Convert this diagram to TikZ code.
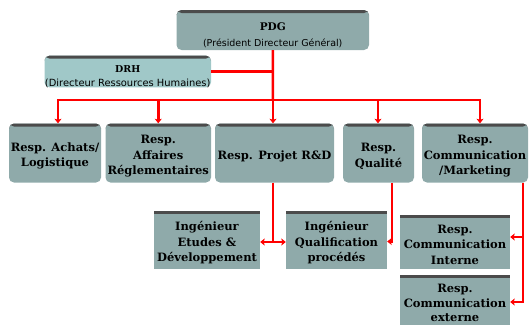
\documentclass[tikz,border=0pt]{standalone}
\usepackage{fontspec}
\setmainfont{DejaVu Serif}
\newfontfamily\subf{DejaVu Sans}
\usetikzlibrary{arrows.meta}
\definecolor{boxfill}{RGB}{143,170,170}
\definecolor{drhfill}{RGB}{160,200,200}
\definecolor{band}{RGB}{75,75,75}
\definecolor{linkred}{RGB}{255,0,0}
\newcommand{\tstrut}[1]{\rule{0pt}{#1}}
\tikzset{
 box/.style={fill=boxfill, draw=none, align=center, inner sep=0pt,
   font=\fontsize{11.5}{15.5}\selectfont\bfseries,
   path picture={\fill[band] (path picture bounding box.north west) rectangle ([yshift=-3pt]path picture bounding box.north east);}},
 rbox/.style={box, rounded corners=5pt},
 link/.style={draw=linkred, line width=2.5pt},
 arr/.style={link, -{Stealth[length=4.5pt,width=7pt,inset=1pt]}},
}
\begin{document}
\begin{tikzpicture}[x=1pt,y=-1pt]
\useasboundingbox (0,0) rectangle (530,324);
\clip (0,0) rectangle (530,324);
\node[rbox, minimum width=192.5pt, minimum height=40pt, font=\fontsize{10.5}{16}\selectfont\bfseries] (pdg) at (272.75,30)
  {\tstrut{18pt}PDG\\{\subf\mdseries\fontsize{9.5}{10}\selectfont (Président Directeur Général)}};
\node[rbox, fill=drhfill, minimum width=166.5pt, minimum height=31pt, font=\fontsize{9.5}{13.5}\selectfont\bfseries] (drh) at (127.75,71.5)
  {\tstrut{17pt}DRH\\{\subf\mdseries\fontsize{9.9}{10}\selectfont (Directeur Ressources Humaines)}};

\node[rbox, minimum width=92pt, minimum height=59pt] (A) at (55,153) {\tstrut{15pt}Resp. Achats/\\Logistique};
\node[rbox, minimum width=105.5pt, minimum height=59pt] (B) at (158.25,153) {\tstrut{15pt}Resp.\\Affaires\\Réglementaires};
\node[rbox, minimum width=119pt, minimum height=59pt] (C) at (274.5,153) {\tstrut{15pt}Resp. Projet R\&D};
\node[rbox, minimum width=71pt, minimum height=59pt] (D) at (378.5,153) {\tstrut{15pt}Resp.\\Qualité};
\node[rbox, minimum width=106pt, minimum height=59pt] (E) at (475,153) {\tstrut{15pt}Resp.\\Communication\\/Marketing};

\node[box, minimum width=106pt, minimum height=58pt] (ingE) at (207,240) {\tstrut{15pt}Ingénieur\\Etudes \&\\Développement};
\node[box, minimum width=101pt, minimum height=58pt] (ingQ) at (336.5,240) {\tstrut{15pt}Ingénieur\\Qualification\\procédés};
\node[box, minimum width=110pt, minimum height=54pt] (ci) at (455,242) {\tstrut{14pt}Resp.\\Communication\\Interne};
\node[box, minimum width=110pt, minimum height=56pt, font=\fontsize{11.5}{14.5}\selectfont\bfseries] (ce) at (455,303) {Resp.\\Communication\\externe};

\coordinate (bus) at (273,100);
\draw[link] (pdg.south) -- (bus);
\draw[link] (drh.east) -- (drh.east -| pdg.south);
\draw[arr] (bus) -| ([xshift=3pt]A.north);
\draw[arr] (bus) -| (B.north);
\draw[arr] (bus) -| ([xshift=-1.5pt]C.north);
\draw[arr] (bus) -| ([xshift=-0.5pt]D.north);
\draw[arr] (bus) -| ([xshift=5pt]E.north);

\coordinate (j) at ([xshift=-1.5pt]C.south |- 0,242);
\draw[link] ([xshift=-1.5pt]C.south) -- (j);
\draw[arr] (j) -- (ingE.east |- j);
\draw[arr] (j) -- (ingQ.west |- j);
\draw[arr] ([xshift=13.5pt]D.south) |- ([yshift=-1.5pt]ingQ.east);
\draw[arr] ([xshift=48pt]E.south) |- ([yshift=5pt]ci.east);
\draw[arr] ([xshift=48pt]E.south) |- ([yshift=1pt]ce.east);
\end{tikzpicture}
\end{document}
